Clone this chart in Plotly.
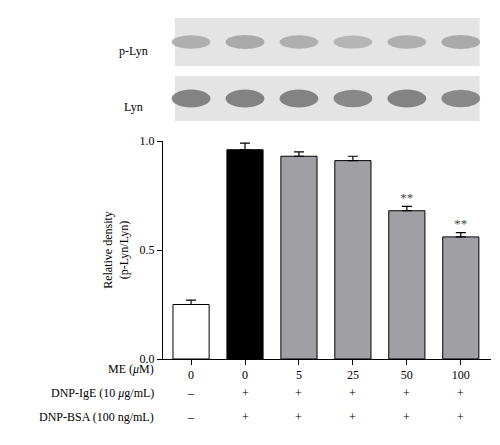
import plotly.graph_objects as go

me_labels = ["0", "0", "5", "25", "50", "100"]
density = [0.25, 0.96, 0.93, 0.91, 0.68, 0.56]
sem = [0.02, 0.03, 0.02, 0.02, 0.02, 0.02]
ige = ["–", "+", "+", "+", "+", "+"]
bsa = ["–", "+", "+", "+", "+", "+"]
stars = ["", "", "", "", "**", "**"]
colors = ["white", "black", "#a0a0a4", "#a0a0a4", "#a0a0a4", "#a0a0a4"]
band_plyn = [0.45, 0.5, 0.45, 0.4, 0.45, 0.5]
band_lyn = [0.85, 0.85, 0.85, 0.8, 0.85, 0.8]

xs = list(range(len(density)))
font = dict(family="Liberation Serif", size=12, color="black")

fig = go.Figure()
fig.add_trace(go.Bar(
    x=xs, y=density, width=0.67,
    marker=dict(color=colors, line=dict(color="black", width=1)),
    error_y=dict(type="data", array=sem, symmetric=False, arrayminus=[0] * 6,
                 color="black", thickness=1.2, width=5),
))
fig.add_trace(go.Scatter(
    x=xs, y=[d + s + 0.035 for d, s in zip(density, sem)], mode="text",
    text=stars, textfont=dict(family="Liberation Serif", size=13, color="#444"),
))

shapes = []
# blot panels (paper y is relative to the plot area)
for y0, y1, bands in [(1.344, 1.564, band_plyn), (1.092, 1.298, band_lyn)]:
    shapes.append(dict(type="rect", xref="x", yref="paper", x0=-0.3, x1=5.35,
                       y0=y0, y1=y1, fillcolor="#e4e4e4", line=dict(width=0), layer="below"))
    mid = (y0 + y1) / 2
    for i, b in enumerate(bands):
        g = int(225 - 130 * b)
        shapes.append(dict(type="circle", xref="x", yref="paper", x0=i - 0.36, x1=i + 0.36,
                           y0=mid - 0.02 - 0.025 * b, y1=mid + 0.02 + 0.025 * b,
                           fillcolor=f"rgb({g},{g},{g})", line=dict(width=0), opacity=0.85))

annotations = [
    dict(x=-0.09, y=1.454, xref="paper", yref="paper", text="p-Lyn", showarrow=False,
         xanchor="center", font=font),
    dict(x=-0.09, y=1.197, xref="paper", yref="paper", text="Lyn", showarrow=False,
         xanchor="center", font=font),
    dict(x=-0.52, y=-0.087, xref="x", yref="paper", text="ME (<i>μ</i>M)", showarrow=False,
         xanchor="right", font=font, xshift=-7),
    dict(x=-0.52, y=-0.197, xref="x", yref="paper", text="DNP-IgE (10 <i>μ</i>g/mL)",
         showarrow=False, xanchor="right", font=font, xshift=-7),
    dict(x=-0.52, y=-0.307, xref="x", yref="paper", text="DNP-BSA (100 ng/mL)",
         showarrow=False, xanchor="right", font=font, xshift=-7),
]
for i in xs:
    annotations.append(dict(x=i, y=-0.197, xref="x", yref="paper", text=ige[i],
                            showarrow=False, font=font))
    annotations.append(dict(x=i, y=-0.307, xref="x", yref="paper", text=bsa[i],
                            showarrow=False, font=font))

fig.update_layout(
    width=500, height=445, showlegend=False,
    margin=dict(l=155, r=17, t=133, b=94),
    plot_bgcolor="white", paper_bgcolor="white",
    font=font, shapes=shapes, annotations=annotations,
    xaxis=dict(range=[-0.52, 5.56], tickvals=xs, ticktext=me_labels, showline=True,
               linecolor="black", ticks="outside", ticklen=5, tickcolor="black",
               showgrid=False, zeroline=False, tickfont=font),
    yaxis=dict(range=[0, 1.0], tickvals=[0, 0.5, 1.0], ticktext=["0.0", "0.5", "1.0"],
               showline=True, linecolor="black", ticks="outside", ticklen=5,
               tickcolor="black", showgrid=False, zeroline=False, tickfont=font,
               title=dict(text="Relative density<br>(p-Lyn/Lyn)", font=font, standoff=8)),
)

fig.write_html("out.html")
